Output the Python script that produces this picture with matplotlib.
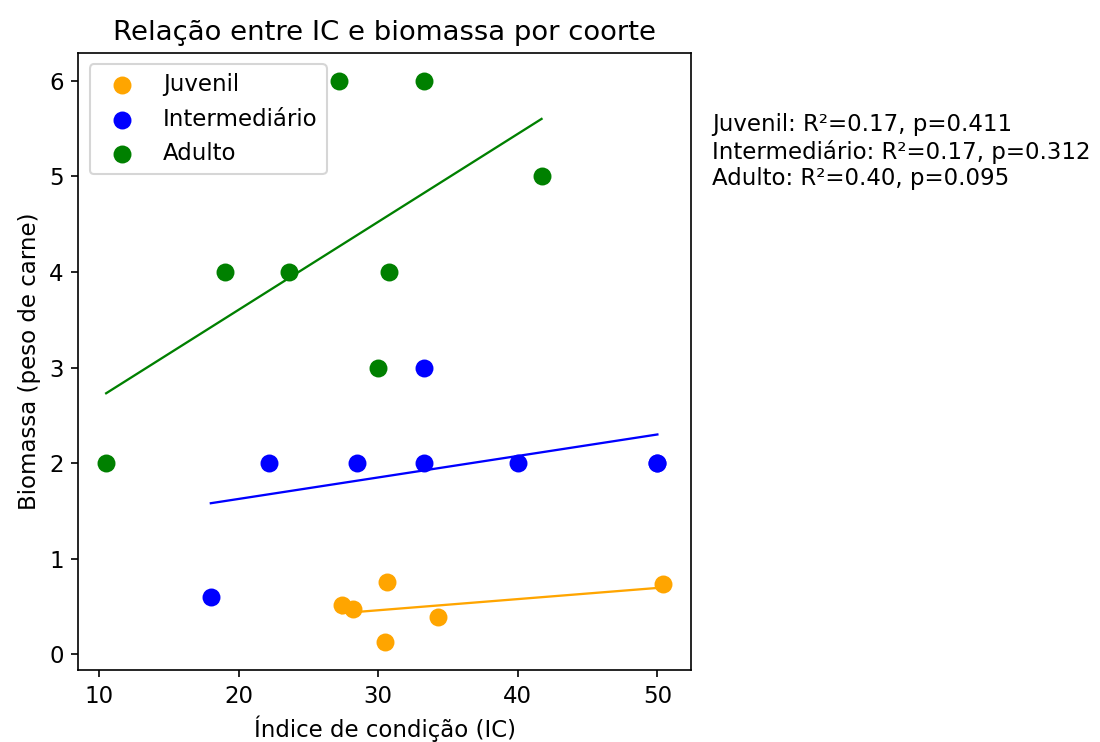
import numpy as np
import matplotlib
matplotlib.use('Agg')
import matplotlib.pyplot as plt

# cohort data
juvenil_ic = [27.4, 28.2, 30.6, 30.5, 34.3, 50.4]
juvenil_bio = [0.52, 0.48, 0.76, 0.13, 0.39, 0.74]

inter_ic = [18.0, 22.2, 28.5, 33.3, 33.3, 40.0, 50.0, 50.0]
inter_bio = [0.60, 2.0, 2.0, 2.0, 3.0, 2.0, 2.0, 2.0]

adulto_ic = [10.5, 19.0, 23.6, 30.8, 30.0, 27.2, 33.3, 41.7]
adulto_bio = [2.0, 4.0, 4.0, 4.0, 3.0, 6.0, 6.0, 5.0]

cohorts = ['Juvenil', 'Intermediário', 'Adulto']
colors = ['orange', 'blue', 'green']
stats_text = ['Juvenil: R²=0.17, p=0.411',
              'Intermediário: R²=0.17, p=0.312',
              'Adulto: R²=0.40, p=0.095']

data = [(juvenil_ic, juvenil_bio), (inter_ic, inter_bio), (adulto_ic, adulto_bio)]

plt.rcParams['font.size'] = 11

fig = plt.figure(figsize=(1100/150, 742/150), dpi=150)
ax = fig.add_axes([0.0712, 0.097, 0.5568, 0.832])

for name, color, (x, y) in zip(cohorts, colors, data):
  x = np.array(x, dtype=float)
  y = np.array(y, dtype=float)
  ax.scatter(x, y, c=color, s=58, label=name)
  slope, intercept = np.polyfit(x, y, 1)
  xs = np.array([x.min(), x.max()])
  ax.plot(xs, slope * xs + intercept, color=color, lw=1.1)

ax.set_xticks([10, 20, 30, 40, 50])
ax.set_title('Relação entre IC e biomassa por coorte')
ax.set_xlabel('Índice de condição (IC)')
ax.set_ylabel('Biomassa (peso de carne)')
ax.legend(loc='upper left')

fig.text(0.647, 0.848, '\n'.join(stats_text), va='top', ha='left', fontsize=11)

fig.savefig('out.png', dpi=150)
